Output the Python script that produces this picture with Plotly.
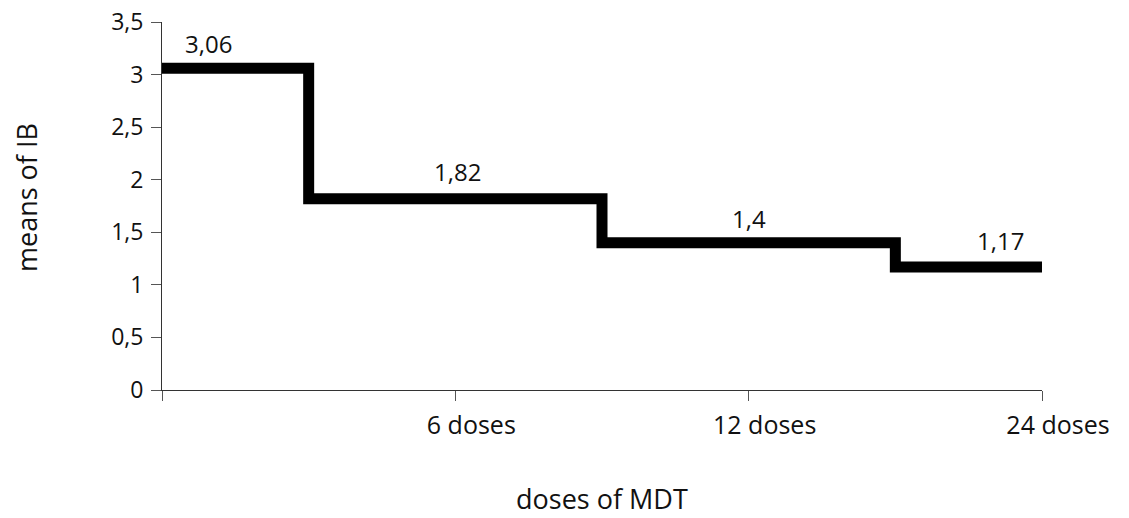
import plotly.graph_objects as go

categories = ["", "6 doses", "12 doses", "24 doses"]
means_ib = [3.06, 1.82, 1.4, 1.17]
value_labels = ["3,06", "1,82", "1,4", "1,17"]
y_ticks = [0, 0.5, 1, 1.5, 2, 2.5, 3, 3.5]

FONT = "Open Sans"
TXT = "#111111"
x_idx = list(range(len(categories)))

fig = go.Figure()
fig.add_trace(go.Scatter(
    x=x_idx, y=means_ib, mode="lines",
    line=dict(color="#000000", width=11, shape="hvh"),
    hoverinfo="skip", showlegend=False,
))

label_shifts = [46, 2, 0, -42]
label_yshifts = [6, 9, 6, 8]
for i, (v, t) in enumerate(zip(means_ib, value_labels)):
    fig.add_annotation(
        x=x_idx[i], y=v, text=t, showarrow=False,
        xanchor="center", yanchor="bottom", xshift=label_shifts[i], yshift=label_yshifts[i],
        font=dict(family=FONT, size=24, color=TXT),
    )

# axis titles
fig.add_annotation(
    x=0.5, y=0, xref="paper", yref="paper", text="doses of MDT", showarrow=False,
    xanchor="center", yanchor="middle", yshift=-108,
    font=dict(family=FONT, size=27, color=TXT),
)
fig.add_annotation(
    x=0, y=0.5, xref="paper", yref="paper", text="means of IB", showarrow=False,
    xanchor="center", yanchor="middle", xshift=-136, yshift=8, textangle=-90,
    font=dict(family=FONT, size=27, color=TXT),
)

fig.update_layout(
    width=1129, height=518,
    margin=dict(l=162, r=87, t=22, b=128),
    paper_bgcolor="white", plot_bgcolor="white",
    separators=", ",
    font=dict(family=FONT, size=20, color=TXT),
    showlegend=False,
)
fig.update_xaxes(
    range=[0, 3], tickmode="array", tickvals=x_idx, ticktext=categories,
    showgrid=False, zeroline=False, showline=True, linecolor="#333333", linewidth=1,
    ticks="outside", ticklen=10, tickcolor="#555555", tickwidth=1,
    ticklabelshift=16, ticklabelstandoff=3, automargin=False,
    ticklabeloverflow="allow",
    tickfont=dict(family=FONT, size=25, color=TXT),
)
fig.update_yaxes(
    range=[0, 3.5], tickmode="array", tickvals=y_ticks,
    showgrid=False, zeroline=False, showline=True, linecolor="#333333", linewidth=1,
    ticks="outside", ticklen=10, tickcolor="#555555", tickwidth=1,
    ticklabelstandoff=3, automargin=False,
    ticklabeloverflow="allow",
    tickfont=dict(family=FONT, size=23, color=TXT),
)

fig.write_html(
    "out.html",
    config={"displayModeBar": False},
    post_script="document.body.style.margin='0';",
)
